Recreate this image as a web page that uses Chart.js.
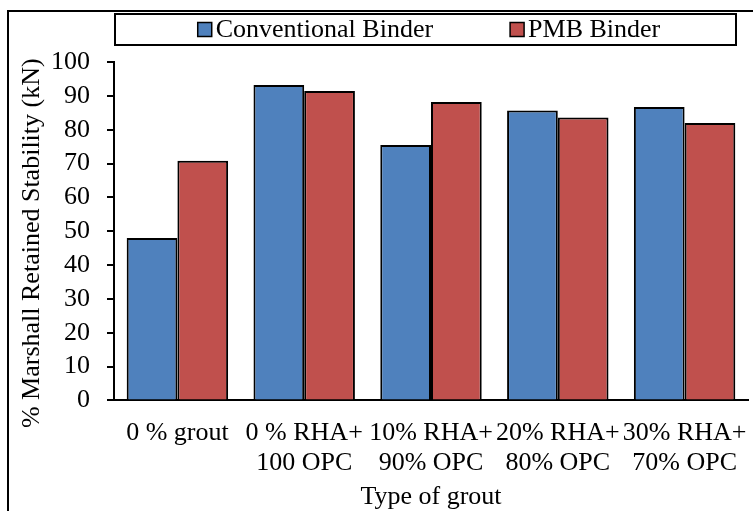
<!DOCTYPE html>
<html>
<head>
<meta charset="utf-8">
<script src="https://cdn.jsdelivr.net/npm/chart.js@4.4.1/dist/chart.umd.min.js"></script>
<style>
  html, body { margin: 0; padding: 0; background: #fff; }
  #wrap { position: relative; width: 753px; height: 511px; }
</style>
</head>
<body>
<div id="wrap"><canvas id="c" width="753" height="511"></canvas></div>
<script>
const categories = [["0 % grout"], ["0 % RHA+", "100 OPC"], ["10% RHA+", "90% OPC"], ["20% RHA+", "80% OPC"], ["30% RHA+", "70% OPC"]];
const conventionalBinder = [48.0, 93.2, 75.5, 85.7, 86.7];
const pmbBinder = [70.8, 91.4, 88.2, 83.6, 82.0];
const seriesNames = ["Conventional Binder", "PMB Binder"];
const yTitle = "% Marshall Retained Stability (kN)";
const xTitle = "Type of grout";

const FONT = "'Liberation Serif', 'Times New Roman', serif";
const FS = 26;

// Custom boxed legend (Excel style), y-axis title and outer figure frame
const legendPlugin = {
  id: 'boxLegend',
  afterDraw(chart) {
    const ctx = chart.ctx;
    const ca = chart.chartArea;
    const boxTop = 14, boxBottom = 45;
    const sq = 14, gapText = 4, gapItem = 77;
    ctx.save();
    // legend frame
    ctx.strokeStyle = '#000';
    ctx.lineWidth = 2;
    ctx.strokeRect(ca.left + 1, boxTop, (ca.right - 12) - (ca.left + 1), boxBottom - boxTop);
    // items
    ctx.font = FS + "px " + FONT;
    const items = chart.data.datasets.map(ds => ({ text: ds.label, color: ds.backgroundColor, w: ctx.measureText(ds.label).width }));
    let total = 0;
    items.forEach((it, i) => { total += sq + gapText + it.w + (i ? gapItem : 0); });
    let x = (ca.left + ca.right) / 2 - 2 - total / 2;
    const cy = (boxTop + boxBottom) / 2;
    items.forEach(it => {
      ctx.fillStyle = it.color;
      ctx.fillRect(x, cy - sq / 2, sq, sq);
      ctx.lineWidth = 1.5;
      ctx.strokeStyle = '#000';
      ctx.strokeRect(x, cy - sq / 2, sq, sq);
      ctx.fillStyle = '#000';
      ctx.textAlign = 'left';
      ctx.textBaseline = 'middle';
      ctx.fillText(it.text, x + sq + gapText, cy + 1);
      x += sq + gapText + it.w + gapItem;
    });
    // y-axis title (slightly below the plot centre, as in the original)
    ctx.save();
    ctx.translate(32, (ca.top + ca.bottom) / 2 + 12);
    ctx.rotate(-Math.PI / 2);
    ctx.textAlign = 'center';
    ctx.textBaseline = 'middle';
    ctx.fillStyle = '#000';
    ctx.font = FS + "px " + FONT;
    ctx.fillText(yTitle, 0, 0);
    ctx.restore();
    // outer figure frame
    ctx.strokeStyle = '#000';
    ctx.lineWidth = 2;
    ctx.beginPath();
    ctx.moveTo(8, chart.height);
    ctx.lineTo(8, 11);
    ctx.lineTo(chart.width, 11);
    ctx.stroke();
    ctx.restore();
  }
};

new Chart(document.getElementById('c'), {
  type: 'bar',
  data: {
    labels: categories,
    datasets: [
      { label: seriesNames[0], data: conventionalBinder, backgroundColor: '#4F81BD', borderColor: '#000', borderWidth: 2 },
      { label: seriesNames[1], data: pmbBinder, backgroundColor: '#C0504D', borderColor: '#000', borderWidth: 2 }
    ]
  },
  options: {
    responsive: false,
    animation: false,
    devicePixelRatio: 1,
    datasets: { bar: { categoryPercentage: 0.8, barPercentage: 1.0 } },
    layout: { padding: { top: 62, left: 0, right: 5, bottom: 0 } },
    plugins: {
      legend: { display: false },
      tooltip: { enabled: false }
    },
    scales: {
      x: {
        grid: { display: true, drawOnChartArea: false, drawTicks: true, tickLength: 18, color: 'rgba(0,0,0,0)' },
        border: { display: true, color: '#000', width: 2 },
        ticks: { color: '#000', font: { family: FONT, size: FS, lineHeight: 30 / FS }, padding: 0, maxRotation: 0, autoSkip: false },
        title: { display: true, text: xTitle, color: '#000', font: { family: FONT, size: FS, lineHeight: 1.1 }, padding: { top: 4, bottom: 0 } }
      },
      y: {
        min: 0, max: 100,
        afterFit(scale) { scale.width = 114; },
        grid: { drawOnChartArea: false, drawTicks: true, tickLength: 7, color: '#000', lineWidth: 2 },
        border: { display: true, color: '#000', width: 2 },
        ticks: { stepSize: 10, autoSkip: false, color: '#000', font: { family: FONT, size: FS }, padding: 17 },
        title: { display: false, text: yTitle }
      }
    }
  },
  plugins: [legendPlugin]
});
</script>
</body>
</html>
